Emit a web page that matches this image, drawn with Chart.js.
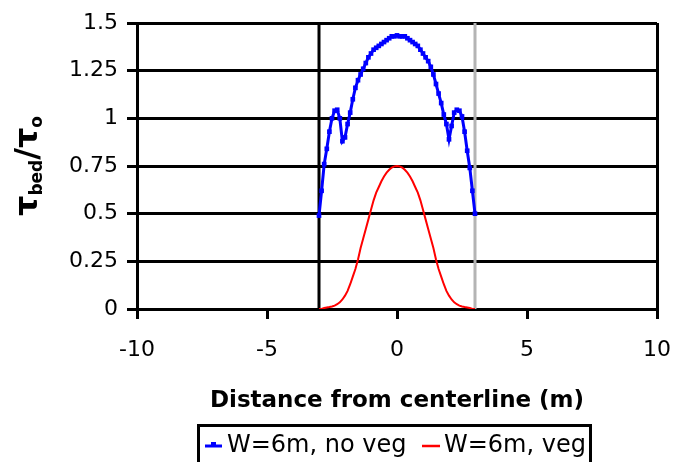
<!DOCTYPE html>
<html>
<head>
<meta charset="utf-8">
<script src="https://cdn.jsdelivr.net/npm/chart.js@4/dist/chart.umd.min.js"></script>
<style>
  html, body { margin: 0; padding: 0; background: #fff; }
  #wrap { width: 674px; height: 462px; position: relative; }
</style>
</head>
<body>
<div id="wrap"><canvas id="c" width="674" height="462"></canvas></div>
<script>
// ---- data ----
const distances = [-3.0,-2.9,-2.8,-2.7,-2.6,-2.5,-2.4,-2.3,-2.2,-2.1,-2.0,-1.9,-1.8,-1.7,-1.6,-1.5,-1.4,-1.3,-1.2,-1.1,-1.0,-0.9,-0.8,-0.7,-0.6,-0.5,-0.4,-0.3,-0.2,-0.1,0.0,0.1,0.2,0.3,0.4,0.5,0.6,0.7,0.8,0.9,1.0,1.1,1.2,1.3,1.4,1.5,1.6,1.7,1.8,1.9,2.0,2.1,2.2,2.3,2.4,2.5,2.6,2.7,2.8,2.9,3.0];
const noVegValues = [0.49,0.62,0.76,0.84,0.93,1.00,1.04,1.045,1.00,0.88,0.90,0.97,1.03,1.10,1.16,1.20,1.23,1.26,1.29,1.32,1.34,1.36,1.37,1.38,1.39,1.40,1.41,1.42,1.43,1.43,1.435,1.43,1.43,1.43,1.42,1.41,1.40,1.39,1.38,1.36,1.34,1.32,1.30,1.27,1.23,1.18,1.13,1.08,1.02,0.97,0.89,0.96,1.03,1.045,1.04,1.01,0.93,0.83,0.74,0.62,0.50];
const vegValues = [0.00,0.00,0.005,0.008,0.010,0.013,0.018,0.025,0.035,0.050,0.070,0.095,0.13,0.17,0.21,0.26,0.32,0.37,0.42,0.47,0.52,0.57,0.61,0.64,0.67,0.695,0.715,0.73,0.742,0.748,0.75,0.748,0.742,0.73,0.715,0.695,0.67,0.64,0.61,0.57,0.52,0.47,0.42,0.37,0.32,0.26,0.21,0.17,0.13,0.095,0.070,0.050,0.035,0.025,0.018,0.013,0.010,0.008,0.005,0.00,0.00];
const leftWallX = [-3, -3];
const rightWallX = [3, 3];
const wallY = [0, 1.5];
const seriesLabels = ['W=6m, no veg', 'W=6m, veg'];
const xTickValues = [-10, -5, 0, 5, 10];
const xTickLabels = ['-10', '-5', '0', '5', '10'];
const yTickValues = [0, 0.25, 0.5, 0.75, 1, 1.25, 1.5];
const yTickLabels = ['0', '0.25', '0.5', '0.75', '1', '1.25', '1.5'];
const xTitle = 'Distance from centerline (m)';

const FONT = '"DejaVu Sans", "Liberation Sans", sans-serif';
const zip = (xs, ys) => xs.map((x, i) => ({ x: x, y: ys[i] }));

const overlay = {
  id: 'overlay',
  afterDraw(chart) {
    const ctx = chart.ctx;
    // Y axis title: tau_bed / tau_o, rotated
    ctx.save();
    ctx.translate(37, 166);
    ctx.rotate(-Math.PI / 2);
    ctx.fillStyle = '#000';
    ctx.textBaseline = 'alphabetic';
    const parts = [
      { t: '\u03C4', f: 'bold 32px ' + FONT, dy: 0 },
      { t: 'bed', f: 'bold 17px ' + FONT, dy: 5 },
      { t: '/\u03C4', f: 'bold 32px ' + FONT, dy: 0 },
      { t: 'o', f: 'bold 17px ' + FONT, dy: 5 }
    ];
    let total = 0;
    parts.forEach(p => { ctx.font = p.f; p.w = ctx.measureText(p.t).width; total += p.w; });
    let px = -total / 2;
    parts.forEach(p => { ctx.font = p.f; ctx.fillText(p.t, px, p.dy); px += p.w; });
    ctx.restore();

    // Legend
    ctx.save();
    ctx.strokeStyle = '#000';
    ctx.lineWidth = 3;
    ctx.strokeRect(198.5, 425.5, 392, 50);
    const ly = 446;
    const ds = chart.data.datasets;
    ctx.strokeStyle = ds[0].borderColor;
    ctx.lineWidth = 3;
    ctx.beginPath(); ctx.moveTo(205, ly); ctx.lineTo(222, ly); ctx.stroke();
    ctx.fillStyle = ds[0].borderColor;
    ctx.fillRect(211, ly - 4, 5, 4);
    ctx.fillStyle = '#000';
    ctx.font = '24px ' + FONT;
    ctx.textBaseline = 'middle';
    ctx.fillText(ds[0].label, 227, ly);
    ctx.strokeStyle = ds[1].borderColor;
    ctx.lineWidth = 2.5;
    ctx.beginPath(); ctx.moveTo(422, ly); ctx.lineTo(440, ly); ctx.stroke();
    ctx.fillText(ds[1].label, 444, ly);
    ctx.restore();
  }
};

new Chart(document.getElementById('c'), {
  type: 'scatter',
  data: {
    datasets: [
      {
        label: seriesLabels[0],
        data: zip(distances, noVegValues),
        showLine: true,
        borderColor: '#0000ff',
        backgroundColor: '#0000ff',
        borderWidth: 3,
        pointStyle: 'rect',
        pointRadius: 3.3,
        pointBorderWidth: 0,
        pointBackgroundColor: '#0000ff',
        tension: 0,
        order: 0
      },
      {
        label: seriesLabels[1],
        data: zip(distances, vegValues),
        showLine: true,
        borderColor: '#ff0000',
        backgroundColor: '#ff0000',
        borderWidth: 2,
        pointRadius: 0,
        tension: 0,
        order: 1
      },
      {
        label: 'left wall',
        data: zip(leftWallX, wallY),
        showLine: true,
        borderColor: '#000000',
        borderWidth: 3,
        pointRadius: 0,
        order: 5
      },
      {
        label: 'right wall',
        data: zip(rightWallX, wallY),
        showLine: true,
        borderColor: '#b4b4b4',
        borderWidth: 3,
        pointRadius: 0,
        order: 5
      }
    ]
  },
  options: {
    responsive: false,
    animation: false,
    devicePixelRatio: 1,
    layout: { padding: { left: 0, right: 17, top: 23, bottom: 0 } },
    plugins: {
      legend: { display: false },
      tooltip: { enabled: false }
    },
    scales: {
      x: {
        type: 'linear',
        min: -10, max: 10,
        afterBuildTicks: (s) => { s.ticks = xTickValues.map(v => ({ value: v })); },
        afterFit: (s) => { s.height = 153; s.paddingRight = 0; s.paddingLeft = 0; },
        ticks: {
          color: '#000',
          font: { family: FONT, size: 22 },
          padding: 18,
          maxRotation: 0,
          callback: (v) => xTickLabels[xTickValues.indexOf(v)]
        },
        grid: {
          color: (c) => (c.tick && c.tick.value === 10) ? '#000' : 'rgba(0,0,0,0)',
          tickColor: '#000',
          lineWidth: 3,
          tickLength: 10,
          drawOnChartArea: true
        },
        border: { display: true, color: '#000', width: 3 },
        title: {
          display: true,
          text: xTitle,
          color: '#000',
          font: { family: FONT, size: 23, weight: 'bold' },
          padding: { top: 0, bottom: 47 }
        }
      },
      y: {
        type: 'linear',
        min: 0, max: 1.5,
        afterBuildTicks: (s) => { s.ticks = yTickValues.map(v => ({ value: v })); },
        afterFit: (s) => { s.width = 137; },
        ticks: {
          color: '#000',
          font: { family: FONT, size: 22 },
          padding: 9,
          callback: (v) => yTickLabels[yTickValues.indexOf(v)]
        },
        grid: {
          color: '#000',
          tickColor: '#000',
          lineWidth: 3,
          tickLength: 10
        },
        border: { display: true, color: '#000', width: 3 }
      }
    }
  },
  plugins: [overlay]
});
</script>
</body>
</html>
